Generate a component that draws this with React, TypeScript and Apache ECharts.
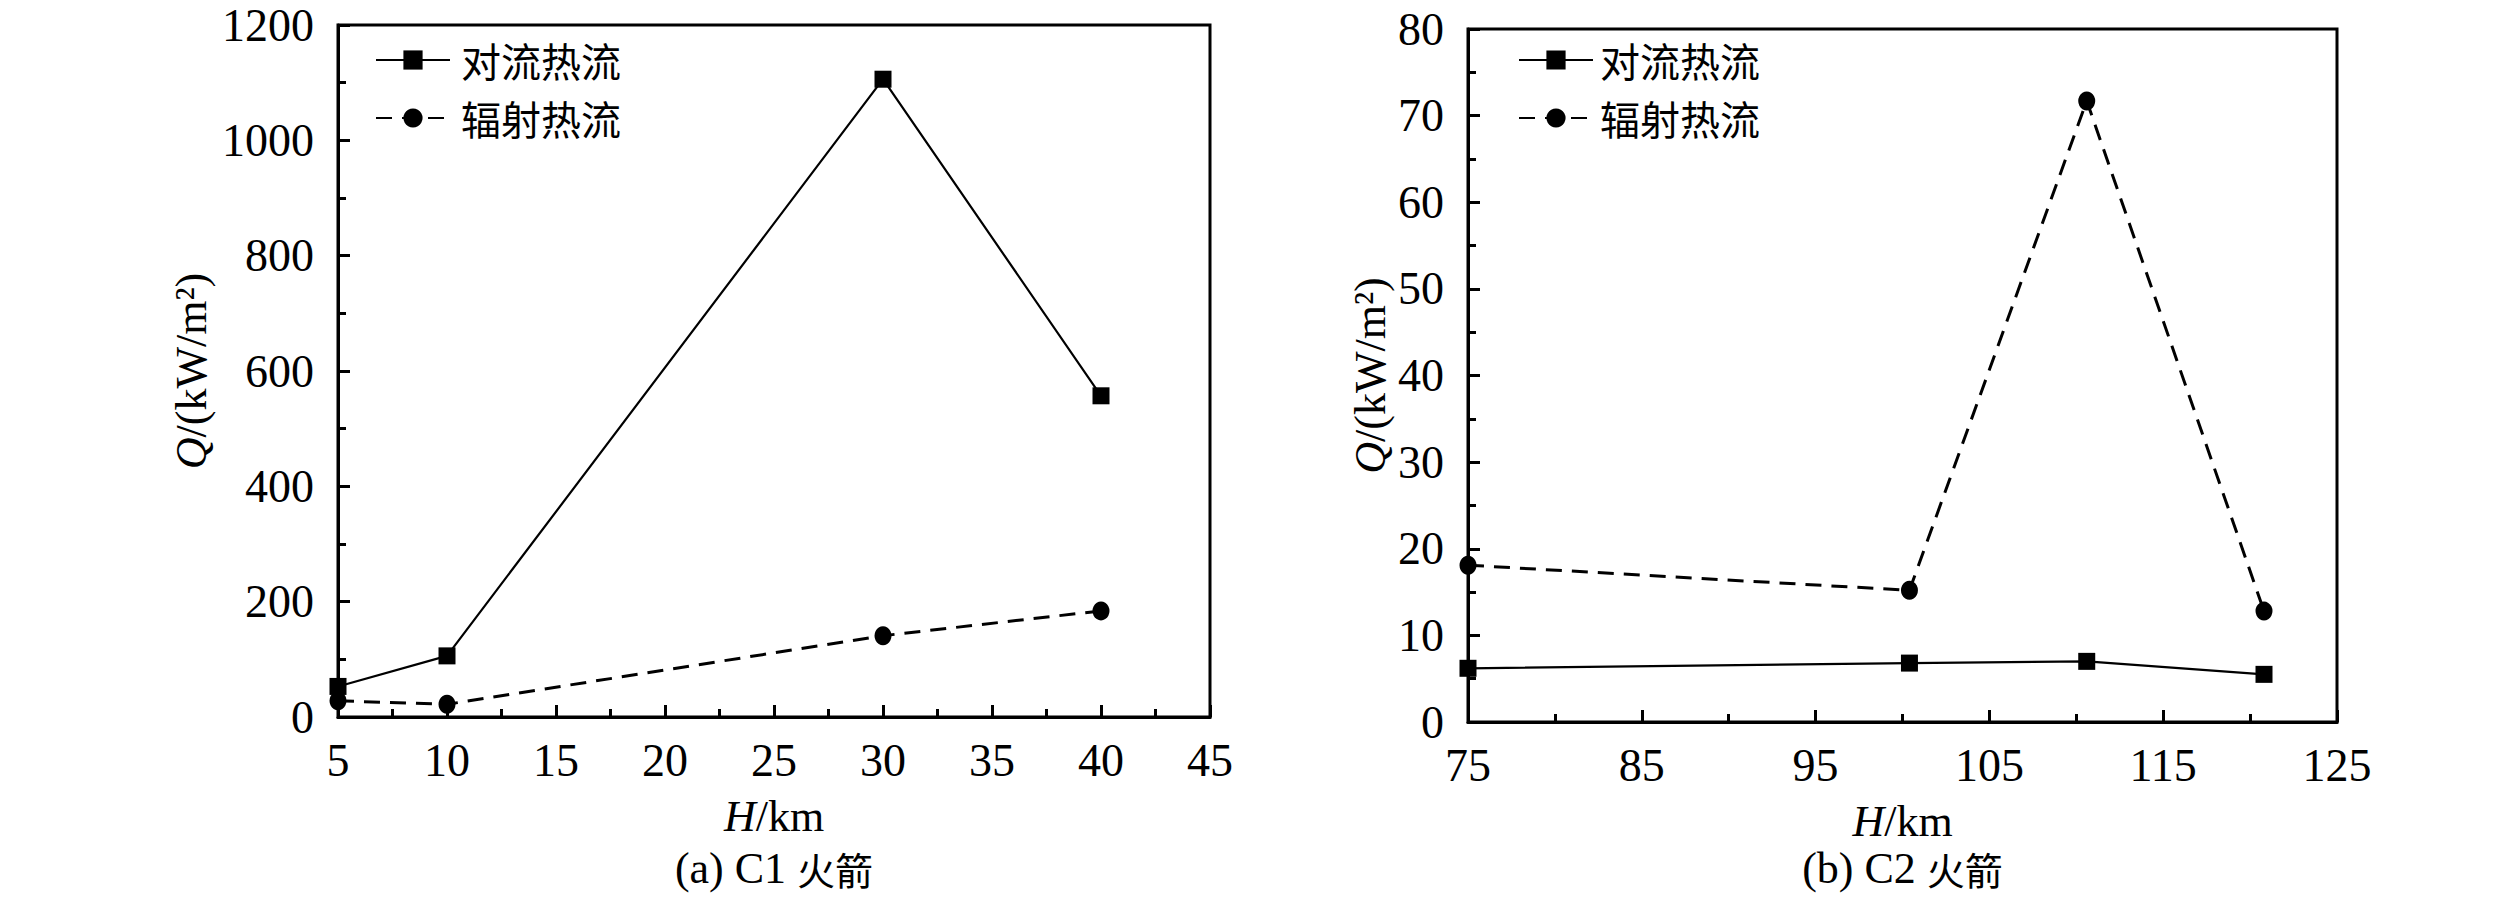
import React, { useEffect, useRef } from "react";
import * as echarts from "echarts";

// Chart (a) C1 rocket
const xC1 = [5, 10, 30, 40];
const convC1 = [53, 106, 1106, 557];
const radC1 = [28, 22, 141, 184];
// Chart (b) C2 rocket
const xC2 = [75, 100.4, 110.6, 120.8];
const convC2 = [6.2, 6.8, 7.0, 5.5];
const radC2 = [18.1, 15.2, 71.7, 12.8];

const seriesNames = ["对流热流", "辐射热流"];
const captions = ["(a) C1 ", "(b) C2 "];
const captionCJK = "火箭";
const xName = "{i|H}/km";
const yName = "{i|Q}/(kW/m²)";

const SERIF = "'Liberation Serif', 'Times New Roman', serif";
const CJK = "'Noto Sans CJK SC', sans-serif";

const pair = (xs: number[], ys: number[]) => xs.map((x, i) => [x, ys[i]]);

export default function App() {
  const ref = useRef<HTMLDivElement>(null);
  useEffect(() => {
    if (!ref.current) return;
    const chart = echarts.init(ref.current, null, { renderer: "svg" });
    const axisLabel = { color: "#000", fontFamily: SERIF, fontSize: 46, formatter: (v: number) => String(v) };
    const nameStyle = {
      color: "#000",
      fontFamily: SERIF,
      fontSize: 44,
      rich: { i: { fontStyle: "italic", fontFamily: SERIF, fontSize: 44, color: "#000" } },
    };
    const axisLine = { show: true, lineStyle: { color: "#000", width: 3 } };
    const axisTick = { show: true, inside: true, length: 12, lineStyle: { color: "#000", width: 3 } };
    const minorTick = { show: true, splitNumber: 2, length: 8, lineStyle: { color: "#000", width: 3 } };
    const grids = [
      { left: 338, top: 25, width: 872, height: 692 },
      { left: 1468, top: 29, width: 869, height: 693 },
    ];
    const makeX = (gi: number, min: number, max: number, interval: number) => ({
      type: "value",
      gridIndex: gi,
      min,
      max,
      interval,
      axisLine,
      axisTick,
      minorTick,
      splitLine: { show: false },
      axisLabel: { ...axisLabel, margin: 20 },
      name: xName,
      nameLocation: "middle",
      nameGap: 77,
      nameTextStyle: nameStyle,
    });
    const makeY = (gi: number, min: number, max: number, interval: number, gap: number) => ({
      type: "value",
      gridIndex: gi,
      min,
      max,
      interval,
      axisLine,
      axisTick,
      minorTick,
      splitLine: { show: false },
      axisLabel: { ...axisLabel, margin: 24 },
      name: yName,
      nameLocation: "middle",
      nameRotate: 90,
      nameGap: gap,
      nameTextStyle: nameStyle,
    });
    const conv = (gi: number, data: number[][]) => ({
      name: seriesNames[0],
      type: "line",
      xAxisIndex: gi,
      yAxisIndex: gi,
      data,
      symbol: "rect",
      symbolSize: 17,
      lineStyle: { color: "#000", width: 2.2, type: "solid" },
      itemStyle: { color: "#000" },
      clip: false,
    });
    const rad = (gi: number, data: number[][]) => ({
      name: seriesNames[1],
      type: "line",
      xAxisIndex: gi,
      yAxisIndex: gi,
      data,
      symbol: "circle",
      symbolSize: [17, 19],
      lineStyle: { color: "#000", width: 3, type: [16, 10] },
      itemStyle: { color: "#000" },
      clip: false,
    });
    const legend = (left: number, pad: number) => ({
      orient: "vertical",
      left,
      top: 30,
      itemWidth: 74,
      itemHeight: 24,
      itemGap: 8,
      data: seriesNames,
      textStyle: { color: "#000", fontFamily: CJK, fontSize: 40, lineHeight: 50, padding: [0, 0, 0, pad] },
    });
    const caption = (x: number, i: number) => ({
      type: "text",
      x,
      y: 868,
      style: {
        text: `{l|${captions[i]}}{c|${captionCJK}}`,
        align: "center",
        verticalAlign: "middle",
        fill: "#000",
        rich: {
          l: { fontFamily: SERIF, fontSize: 44, fill: "#000" },
          c: { fontFamily: CJK, fontSize: 38, fill: "#000" },
        },
      },
    });
    chart.setOption({
      animation: false,
      backgroundColor: "#fff",
      grid: grids.map((g) => ({ ...g, show: true, borderColor: "#000", borderWidth: 3, backgroundColor: "transparent" })),
      xAxis: [makeX(0, 5, 45, 5), makeX(1, 75, 125, 10)],
      yAxis: [makeY(0, 0, 1200, 200, 125), makeY(1, 0, 80, 10, 76)],
      legend: [legend(370, 6), legend(1513, 2)],
      series: [conv(0, pair(xC1, convC1)), rad(0, pair(xC1, radC1)), conv(1, pair(xC2, convC2)), rad(1, pair(xC2, radC2))],
      graphic: [caption(338 + 872 / 2, 0), caption(1468 + 869 / 2, 1)],
    });
    return () => chart.dispose();
  }, []);
  return <div ref={ref} style={{ position: "fixed", left: 0, top: 0, width: 2520, height: 898, background: "#fff" }} />;
}
